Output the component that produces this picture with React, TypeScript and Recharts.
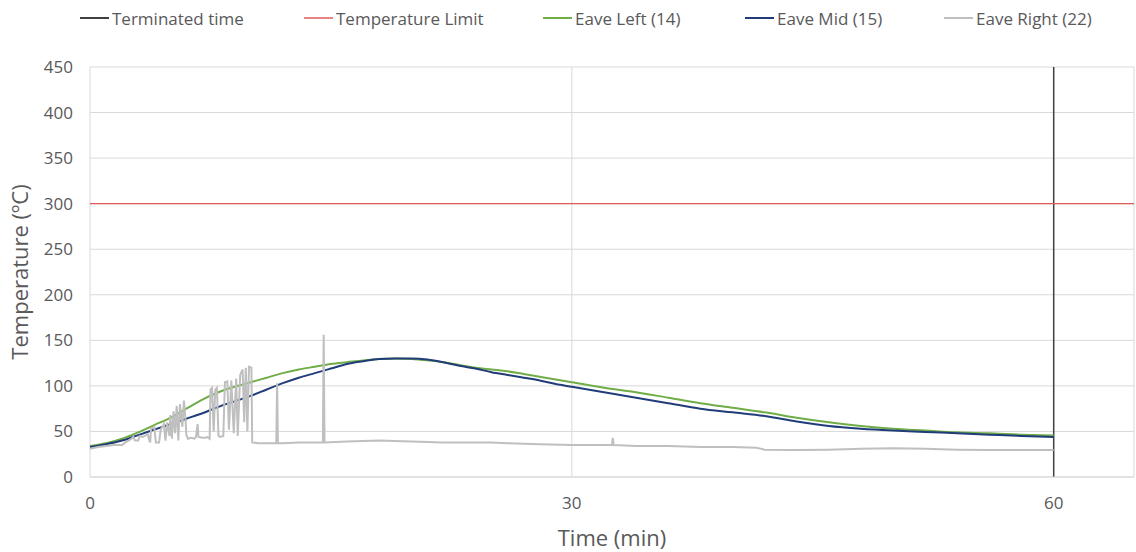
import { LineChart, Line, XAxis, YAxis, CartesianGrid, Legend } from "recharts";

// time (min) / temperature (°C)
const leftTimes = [0, 1, 2, 3, 4, 5, 6, 7, 8, 9, 10, 11, 12, 13, 14, 15, 16, 17, 18, 19, 20, 21, 22, 23, 24, 25, 26, 27, 28, 29, 30, 32, 34, 36, 38, 40, 42, 44, 46, 48, 50, 52, 54, 56, 58, 60];
const leftTemps = [34, 37, 42, 49, 57, 65, 75, 85, 93, 99, 104, 109, 114, 118, 121, 124, 126, 128, 129.5, 130, 129.5, 128, 126, 123, 120, 118, 116, 113, 110, 107, 104, 98, 93, 87, 81, 76, 71, 65, 60, 56, 53, 51, 49, 48, 46.5, 45.5];

const midTimes = leftTimes;
const midTemps = [33, 36, 40, 46, 52, 58, 64, 70, 77, 83, 89, 96, 103, 109, 114, 119, 124, 127, 129.5, 130, 130, 129, 126, 122, 119, 115, 112, 109, 106, 102, 99, 93, 87, 81, 75, 71, 67, 61, 56, 53, 51, 49.5, 48, 46.5, 45, 44];

const rightTimes = [0, 0.5, 1, 1.5, 2, 2.2, 2.5, 2.7, 2.8, 3.0, 3.1, 3.3, 3.6, 3.7, 3.75, 3.8, 4.0, 4.1, 4.3, 4.4, 4.6, 4.7, 4.8, 4.95, 5.0, 5.1, 5.2, 5.3, 5.4, 5.5, 5.6, 5.75, 5.85, 5.95, 6.0, 6.1, 6.3, 6.5, 6.6, 6.7, 6.75, 7.0, 7.2, 7.3, 7.45, 7.5, 7.6, 7.7, 7.8, 7.9, 8.0, 8.1, 8.3, 8.4, 8.55, 8.65, 8.8, 8.95, 9.1, 9.2, 9.35, 9.5, 9.6, 9.7, 9.8, 9.9, 10.05, 10.1, 10.5, 11, 11.6, 11.65, 11.7, 12, 13, 14, 14.5, 14.55, 14.6, 16, 18, 20, 22, 24, 25, 26, 28, 30, 32, 32.5, 32.55, 32.6, 34, 36, 38, 40, 41.5, 42, 44, 46, 48, 50, 52, 54, 56, 58, 60];
const rightTemps = [31, 33, 34, 35, 35, 38, 41, 44, 40, 40, 45, 44, 47, 40, 38, 53, 55, 38, 38, 52, 58, 40, 60, 45, 68, 42, 72, 48, 78, 40, 80, 55, 84, 62, 46, 42, 43, 42, 44, 58, 44, 43, 43, 44, 42, 96, 98, 50, 96, 98, 45, 44, 45, 104, 105, 52, 106, 48, 108, 45, 112, 118, 60, 120, 50, 121, 120, 38, 37, 37, 37, 103, 37, 37, 38, 38, 38, 156, 38, 39, 40, 39, 38, 38, 38, 37, 36, 35, 35, 35, 43, 35, 34, 34, 33, 33, 32, 30, 29.5, 30, 31, 31.5, 31, 30, 29.5, 29.5, 29.5];

const limitTimes = [0, 65];
const limitTemps = [300, 300];

const terminatedTimes = [60, 60];
const terminatedTemps = [0, 450];

const xTicks = [0, 30, 60];
const yTicks = [0, 50, 100, 150, 200, 250, 300, 350, 400, 450];

const toPoints = (ts: number[], vs: number[]) => ts.map((t, i) => ({ t, v: vs[i] }));

const SERIES = [
  { name: "Terminated time", color: "#404040", width: 1.5, data: toPoints(terminatedTimes, terminatedTemps), type: "linear" },
  { name: "Temperature Limit", color: "#E05A5A", width: 1.3, data: toPoints(limitTimes, limitTemps), type: "linear" },
  { name: "Eave Left (14)", color: "#70AD47", width: 2, data: toPoints(leftTimes, leftTemps), type: "monotone" },
  { name: "Eave Mid (15)", color: "#203D7A", width: 2, data: toPoints(midTimes, midTemps), type: "monotone" },
  { name: "Eave Right (22)", color: "#BFBFBF", width: 2, data: toPoints(rightTimes, rightTemps), type: "linear" },
];

const LEGEND_X = [80, 304, 543, 745, 944];
const TEXT = "#595959";
const FONT = "'Open Sans', sans-serif";

const ChartLegend = () => (
  <div style={{ position: "relative", width: 1136, height: 36 }}>
    {SERIES.map((s, i) => (
      <div
        key={s.name}
        style={{ position: "absolute", left: LEGEND_X[i], top: 6, display: "flex", alignItems: "center", whiteSpace: "nowrap" }}
      >
        <svg width={30} height={24}>
          <line x1={0} x2={29} y1={12} y2={12} stroke={s.color} strokeWidth={s.width < 1.5 ? 1.5 : 2} />
        </svg>
        <span style={{ marginLeft: 2, color: TEXT, fontSize: 17, fontFamily: FONT }}>{s.name}</span>
      </div>
    ))}
  </div>
);

export default function App() {
  return (
    <div style={{ position: "absolute", left: 0, top: 0, background: "#fff" }}>
      <LineChart width={1136} height={552} margin={{ top: 31, right: 2, bottom: 0, left: 0 }} style={{ fontFamily: FONT }}>
        <CartesianGrid stroke="#D9D9D9" strokeWidth={1} />
        <XAxis
          type="number"
          dataKey="t"
          domain={[0, 65]}
          ticks={xTicks}
          allowDataOverflow
          height={75}
          axisLine={{ stroke: "#D9D9D9" }}
          tickLine={false}
          tickSize={0}
          tickMargin={20}
          tick={{ fill: TEXT, fontSize: 17 }}
          label={{ value: "Time (min)", position: "insideBottom", offset: 6, fill: TEXT, fontSize: 22 }}
        />
        <YAxis
          type="number"
          domain={[0, 450]}
          ticks={yTicks}
          width={90}
          axisLine={false}
          tickLine={false}
          tickSize={0}
          tickMargin={17}
          tick={{ fill: TEXT, fontSize: 17 }}
          label={{ value: "Temperature (ºC)", angle: -90, position: "insideLeft", offset: 20, fill: TEXT, fontSize: 22, style: { textAnchor: "middle" } }}
        />
        <Legend verticalAlign="top" content={() => <ChartLegend />} wrapperStyle={{ top: 0, left: 0, width: 1136, height: 36 }} />
        {SERIES.map((s) => (
          <Line
            key={s.name}
            data={s.data}
            dataKey="v"
            name={s.name}
            type={s.type as "linear" | "monotone"}
            stroke={s.color}
            strokeWidth={s.width}
            dot={false}
            activeDot={false}
            isAnimationActive={false}
          />
        ))}
      </LineChart>
    </div>
  );
}
